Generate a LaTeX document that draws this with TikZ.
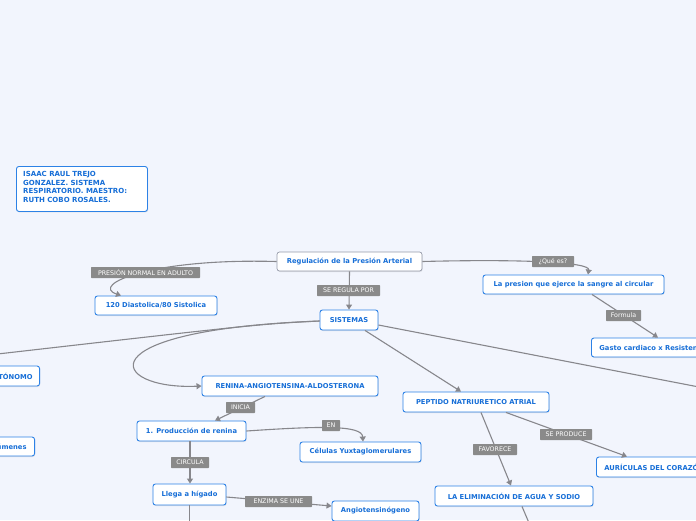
\documentclass[tikz,border=0pt]{standalone}
\usepackage{fontspec}
\setmainfont{DejaVu Sans}
\usetikzlibrary{arrows.meta,shadows,calc}
\definecolor{bg}{RGB}{242,245,253}
\definecolor{nodeblue}{RGB}{45,130,230}
\definecolor{textblue}{RGB}{22,110,215}
\definecolor{rootgray}{RGB}{150,155,170}
\definecolor{linegray}{RGB}{135,135,140}
\definecolor{lblgray}{RGB}{138,138,138}
\tikzset{
  topic/.style={draw=nodeblue, line width=0.9pt, rounded corners=2.5pt, fill=white,
    text=textblue, font=\bfseries\fontsize{6.75}{7.5}\selectfont, inner sep=0pt,
    minimum height=20pt, align=center,
    drop shadow={opacity=0.18, shadow xshift=0.6pt, shadow yshift=-1pt}},
  roottopic/.style={topic, draw=rootgray, line width=0.7pt},
  lbl/.style={fill=lblgray, text=white, font=\fontsize{6.3}{7}\selectfont,
    inner sep=0pt, minimum height=11pt, rounded corners=0.6pt},
  conn/.style={draw=linegray, line width=1.1pt},
  arr/.style={conn, -{Triangle[width=6pt,length=5pt]}}
}
\begin{document}
\begin{tikzpicture}[x=1pt,y=-1pt]
\fill[bg] (0,0) rectangle (696,520);
\useasboundingbox (0,0) rectangle (696,520);

% nodes
\node[topic, minimum width=131pt, minimum height=45pt, anchor=north west] (author) at (16,166) {};
\node[anchor=north west, inner sep=0pt, align=left, text=textblue,
  font=\bfseries\fontsize{7}{8.5}\selectfont] (authortext) at (23,171.5)
  {ISAAC RAUL TREJO\\GONZALEZ. SISTEMA\\RESPIRATORIO. MAESTRO:\\RUTH COBO ROSALES.};
\node[roottopic, minimum width=145pt, minimum height=19pt] (root) at (349.5,261.5) {Regulación de la Presión Arterial};
\node[topic, minimum width=122pt, minimum height=19pt] (n120) at (156,305.5) {120 Diastolica/80 Sistolica};
\node[topic, minimum width=58pt] (sis) at (349,320) {SISTEMAS};
\node[topic, minimum width=181pt, minimum height=19pt] (presion) at (573.5,284.5) {La presion que ejerce la sangre al circular};
\node[topic, anchor=west, inner xsep=8pt, minimum height=19pt] (gasto) at (591,347.5) {Gasto cardiaco x Resistencia};
\node[topic, anchor=east, inner xsep=7pt] (auto) at (40,376) {AUTÓNOMO};
\node[topic, anchor=east, inner xsep=8pt, minimum height=19pt] (vol) at (35,446.5) {Volúmenes};
\node[topic, minimum width=176pt] (renina) at (290,386) {RENINA-ANGIOTENSINA-ALDOSTERONA};
\node[topic, minimum width=109pt] (prod) at (191.5,431) {1. Producción de renina};
\node[topic, minimum width=121pt] (cel) at (360.5,452) {Células Yuxtaglomerulares};
\node[topic, minimum width=73pt, minimum height=21pt] (llega) at (189.5,494.5) {Llega a hígado};
\node[topic, minimum width=87pt] (angio) at (375.5,511) {Angiotensinógeno};
\node[topic, minimum width=146pt] (pep) at (476,402) {PEPTIDO NATRIURETICO ATRIAL};
\node[topic, anchor=west, inner xsep=8pt] (auri) at (596,467) {AURÍCULAS DEL CORAZÓN};
\node[topic, minimum width=158pt] (elim) at (514,496) {LA ELIMINACIÓN DE AGUA Y SODIO};

\coordinate (offL) at (-20,356);
\coordinate (offR) at (730,393);
\coordinate (offB1) at (189.5,530);
\coordinate (offB2) at (532,530);

% connectors
\draw[arr] (root.west) .. controls (150,258) and (90,285) .. ([xshift=-35pt]n120.north);
\draw[arr] (root.south) -- (sis.north);
\draw[arr] (root.east) .. controls (520,259) and (590,262) .. ([xshift=14.5pt]presion.north);
\draw[arr] ([xshift=18.5pt]presion.south) -- ([xshift=67pt]gasto.north west);
\draw[conn] ([yshift=-1pt]sis.west) .. controls (260,324) .. (offL);
\draw[arr] ([yshift=-1pt]sis.west) .. controls (80,330) and (110,390) .. (renina.west);
\draw[arr] ([xshift=16pt]sis.south) -- ([xshift=-15pt]pep.north);
\draw[conn] ([yshift=-5pt]sis.east) -- (offR);
\draw[arr] ([xshift=-25pt]renina.south) -- ([xshift=23.5pt]prod.north);
\draw[arr] (prod.east) .. controls (320,426) and (362,425) .. ([xshift=2.5pt]cel.north);
\draw[arr] ([xshift=-1.5pt]prod.south) -- ([xshift=0.5pt]llega.north);
\draw[arr] ([yshift=-2.5pt]llega.east) -- ([yshift=5pt]angio.west);
\draw[conn] (llega.south) -- (offB1);
\draw[arr] ([xshift=5pt]pep.south) -- ([xshift=-3pt]elim.north);
\draw[arr] ([xshift=30pt]pep.south) -- ([xshift=31pt]auri.north west);
\draw[conn] ([xshift=8pt]elim.south) -- (offB2);

% labels
\node[lbl, minimum width=109pt] (l1) at (145.5,272.5) {PRESIÓN NORMAL EN ADULTO};
\node[lbl, minimum width=63pt] (l2) at (348.5,290.5) {SE REGULA POR};
\node[lbl, minimum width=42pt] (l3) at (553,261.5) {¿Qué es?};
\node[lbl, minimum width=35pt] (l4) at (623.5,315.5) {Formula};
\node[lbl, minimum width=29pt] (l5) at (240.5,407.5) {INICIA};
\node[lbl, minimum width=18pt] (l6) at (331,425.5) {EN};
\node[lbl, minimum width=38pt] (l7) at (190,462.5) {CIRCULA};
\node[lbl, minimum width=67pt] (l8) at (278.5,501.5) {ENZIMA SE UNE};
\node[lbl, minimum width=52pt] (l9) at (566,434.5) {SE PRODUCE};
\node[lbl, minimum width=44pt] (l10) at (495,449.5) {FAVORECE};
\end{tikzpicture}
\end{document}
